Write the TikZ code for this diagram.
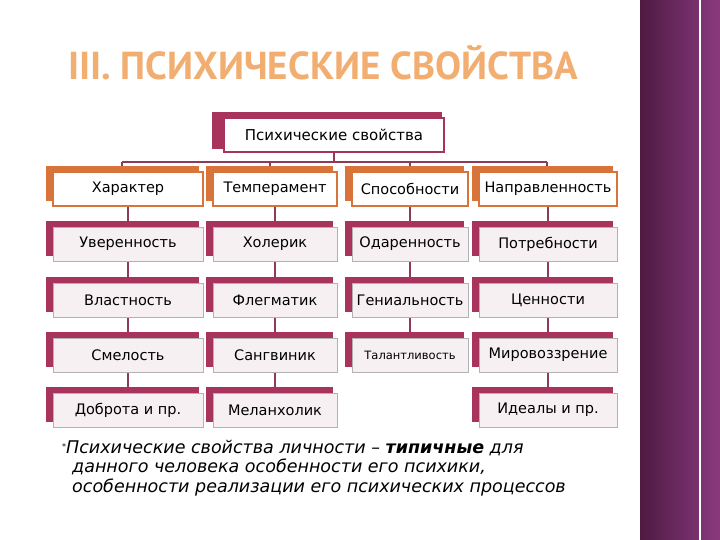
\documentclass[tikz,border=0pt]{standalone}
\usepackage{fontspec}
\setmainfont{DejaVu Sans}
\newfontfamily\ttlfont{PT Sans}
\usetikzlibrary{positioning}
\definecolor{crim}{HTML}{A8345E}
\definecolor{org}{HTML}{D8743A}
\definecolor{pinkf}{HTML}{F7F0F2}
\definecolor{lnk}{HTML}{8E3A5A}
\definecolor{ttl}{HTML}{F2AE70}
\definecolor{stripA}{HTML}{4E1A42}
\definecolor{stripB}{HTML}{8A3A80}
\tikzset{
  frontA/.style={draw=org,line width=1.6pt,fill=white,minimum width=#1,minimum height=34pt,font=\fontsize{14.5}{16}\selectfont,inner sep=1pt},
  frontB/.style={draw=gray!60,line width=0.8pt,fill=pinkf,minimum width=#1,minimum height=34pt,font=\fontsize{14.5}{16}\selectfont,inner sep=1pt},
  lnkline/.style={draw=lnk,line width=2pt},
}
\newcommand{\boxA}[5]{% name,x,y,width,text
  \fill[org] (#2-#4/2-7,#3-17-6) rectangle (#2+#4/2-4,#3+17-5);
  \node[frontA=#4 pt] (#1) at (#2,#3) {#5};}
\newcommand{\boxB}[5]{% name,x,y,width,text
  \fill[crim] (#2-#4/2-7,#3-17-6) rectangle (#2+#4/2-4,#3+17-5);
  \node[frontB=#4 pt] (#1) at (#2,#3) {#5};}
\begin{document}
\begin{tikzpicture}[x=1pt,y=-1pt]
\useasboundingbox (0,0) rectangle (720,540);
\fill[white] (0,0) rectangle (720,540);
\shade[left color=stripA,right color=stripB] (640,0) rectangle (720,540);
\draw[white,line width=1.5pt] (700,0) -- (700,540);
\node[text=ttl,draw=none,font=\ttlfont\bfseries\fontsize{39}{42}\selectfont] (title) at (323,63) {III. ПСИХИЧЕСКИЕ СВОЙСТВА};
% top box
\fill[crim] (212,112) rectangle (442,149);
\node[draw=crim,line width=1.6pt,fill=white,minimum width=220pt,minimum height=34pt,font=\fontsize{15}{17}\selectfont] (top) at (334,135) {Психические свойства};
% connectors
\coordinate (bar) at (334,162);
\draw[lnkline] (top.south) -- (bar);
\draw[lnkline] (122,162) -- (547,162);
\foreach \x in {122,270,410,547} \draw[lnkline] (\x,162) -- (\x,170);
\draw[lnkline] (128,170) -- (128,410);
\draw[lnkline] (275,170) -- (275,410);
\draw[lnkline] (410,170) -- (410,355);
\draw[lnkline] (548,170) -- (548,410);
% row 1
\boxA{c1}{128}{189}{150}{Характер}
\boxA{c2}{275}{189}{124}{Темперамент}
\boxA{c3}{410}{189}{116}{Способности}
\boxA{c4}{548}{189}{138}{Направленность}
% rows
\boxB{a1}{128}{244}{150}{Уверенность}
\boxB{a2}{128}{300}{150}{Властность}
\boxB{a3}{128}{355}{150}{Смелость}
\boxB{a4}{128}{410}{150}{Доброта и пр.}
\boxB{b1}{275}{244}{124}{Холерик}
\boxB{b2}{275}{300}{124}{Флегматик}
\boxB{b3}{275}{355}{124}{Сангвиник}
\boxB{b4}{275}{410}{124}{Меланхолик}
\boxB{d1}{410}{244}{116}{Одаренность}
\boxB{d2}{410}{300}{116}{Гениальность}
\boxB{d3}{410}{355}{116}{\fontsize{11.5}{13}\selectfont Талантливость}
\boxB{e1}{548}{244}{138}{Потребности}
\boxB{e2}{548}{300}{138}{Ценности}
\boxB{e3}{548}{355}{138}{Мировоззрение}
\boxB{e4}{548}{410}{138}{Идеалы и пр.}
\node[anchor=north west,align=left,font=\fontsize{17.5}{19.5}\selectfont\itshape,inner sep=0pt] (note) at (62,440)
{\raisebox{4pt}{\fontsize{8}{8}\selectfont\upshape *}Психические свойства личности -- \textbf{типичные} для\\
\hspace*{10pt}данного человека особенности его психики,\\
\hspace*{10pt}особенности реализации его психических процессов};
\end{tikzpicture}
\end{document}
